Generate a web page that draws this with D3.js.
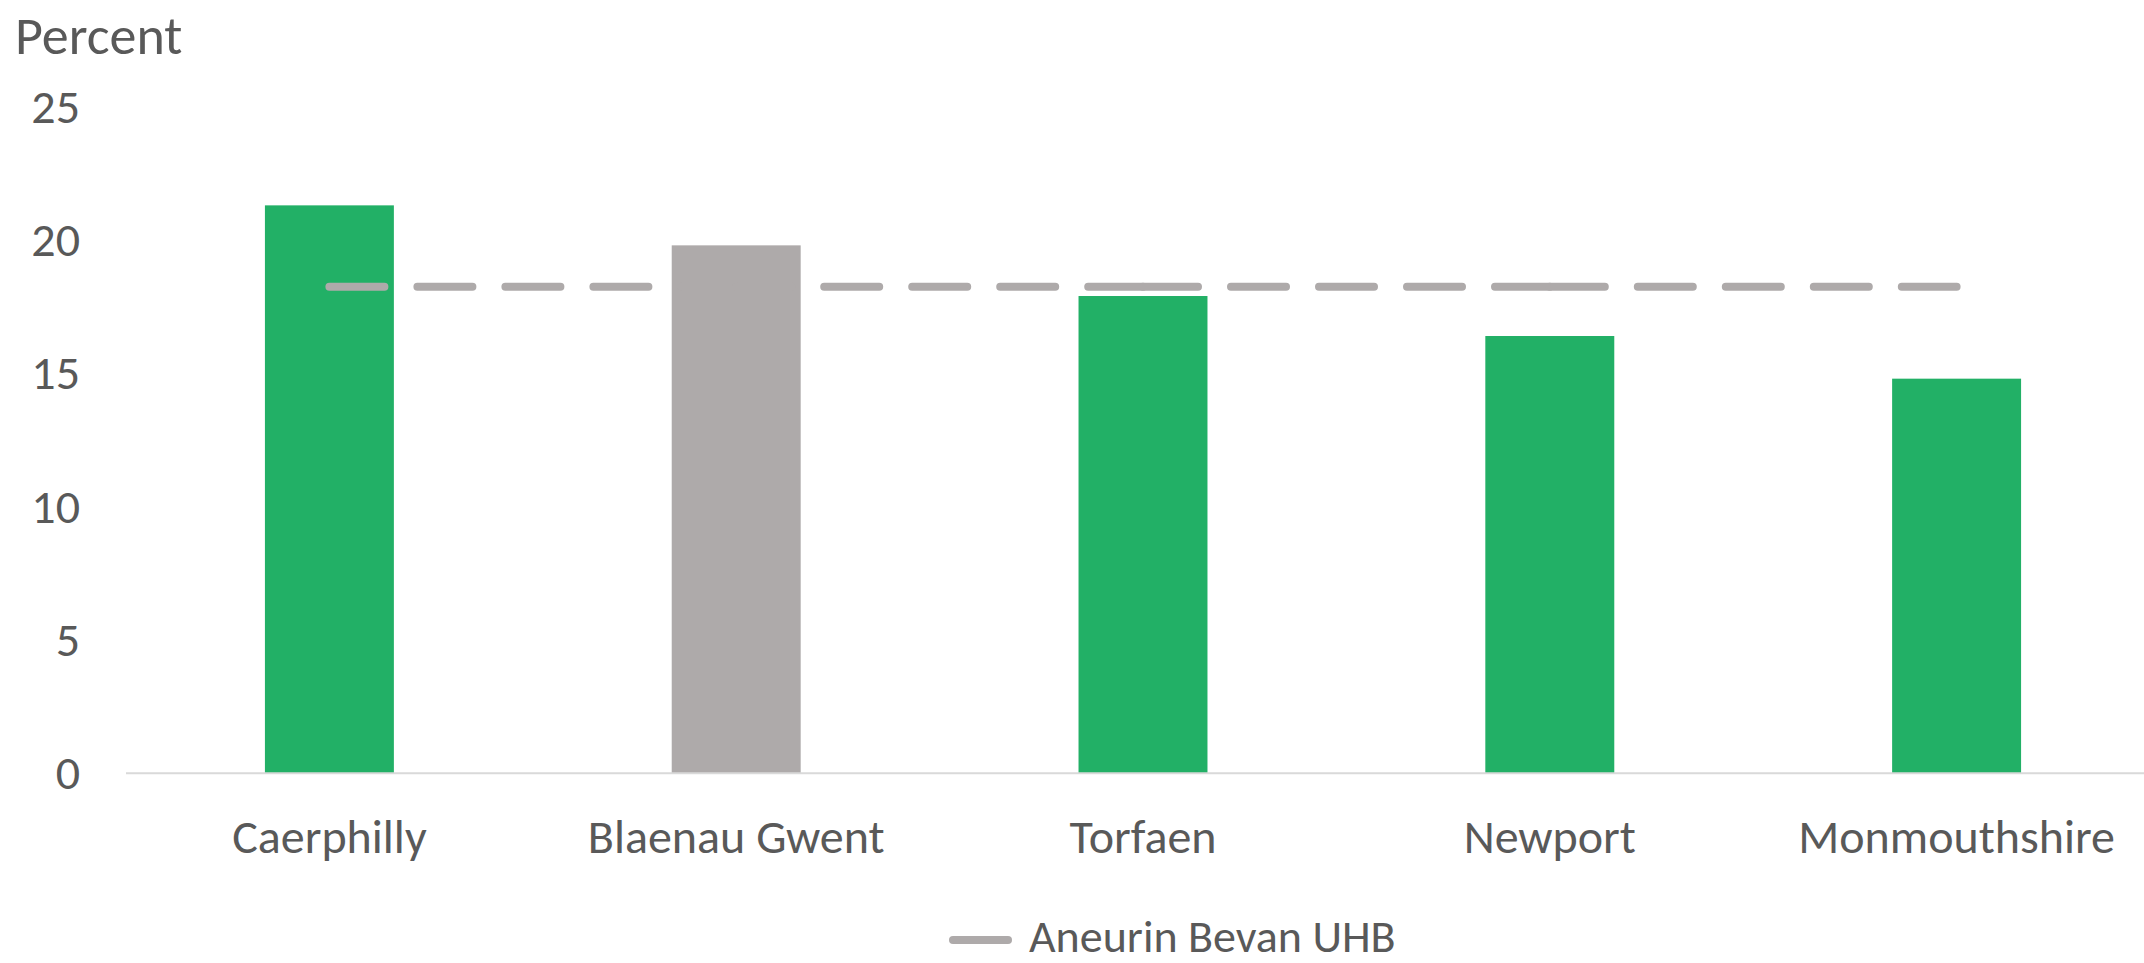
<!DOCTYPE html>
<html><head><meta charset="utf-8">
<script src="https://cdn.jsdelivr.net/npm/d3@7"></script>
<style>body{margin:0;background:#fff;overflow:hidden}</style>
</head><body><svg id="c" width="2144" height="963"></svg>
<script>
const categories = ["Caerphilly", "Blaenau Gwent", "Torfaen", "Newport", "Monmouthshire"];
const values = [21.3, 19.8, 17.9, 16.4, 14.8];
const boardAverage = [18.25, 18.25, 18.25, 18.25, 18.25];
const highlighted = ["Blaenau Gwent"];
const yTicks = [0, 5, 10, 15, 20, 25];
const yTitle = "Percent";
const legendLabel = "Aneurin Bevan UHB";

const FONT = "Carlito, Calibri, Lato, sans-serif";
const TXT = "#595959";
const GREEN = "#22B066", GREY = "#AEAAAA";

const svg = d3.select("#c").style("font-family", FONT);

const x = d3.scaleBand().domain(categories).range([126, 2160])
  .paddingInner(0.683).paddingOuter(0.3415);
const y = d3.scaleLinear().domain([0, 25]).range([773.3, 106.7]);

// y labels
svg.append("g").selectAll("text").data(yTicks).join("text")
  .attr("x", 80).attr("y", d => y(d) + 16)
  .attr("text-anchor", "end").attr("font-size", 48).attr("fill", TXT)
  .text(d => d);

svg.append("text").attr("x", 15).attr("y", 54).attr("font-size", 54)
  .attr("fill", TXT).text(yTitle);

// bars
svg.append("g").selectAll("rect").data(categories).join("rect")
  .attr("x", d => x(d)).attr("width", x.bandwidth())
  .attr("y", (d, i) => y(values[i])).attr("height", (d, i) => y(0) - y(values[i]))
  .attr("fill", d => highlighted.includes(d) ? GREY : GREEN);

// x axis line
svg.append("line").attr("x1", 126).attr("x2", 2160)
  .attr("y1", y(0)).attr("y2", y(0))
  .attr("stroke", "#D9D9D9").attr("stroke-width", 2);

// category labels
svg.append("g").selectAll("text").data(categories).join("text")
  .attr("x", d => x(d) + x.bandwidth() / 2).attr("y", 853)
  .attr("text-anchor", "middle").attr("font-size", 48).attr("fill", TXT)
  .text(d => d);

// dashed average line, drawn segment by segment (dash restarts at each point)
const cx = d => x(d) + x.bandwidth() / 2;
const segs = d3.range(categories.length - 1).map(i => [
  [cx(categories[i]), y(boardAverage[i])],
  [cx(categories[i + 1]), y(boardAverage[i + 1])]
]);
svg.append("g").selectAll("path").data(segs).join("path")
  .attr("d", d => d3.line()(d))
  .attr("fill", "none").attr("stroke", GREY).attr("stroke-width", 8)
  .attr("stroke-linecap", "round").attr("stroke-dasharray", "55,33");

// legend
svg.append("line").attr("x1", 953).attr("x2", 1008).attr("y1", 940).attr("y2", 940)
  .attr("stroke", GREY).attr("stroke-width", 8).attr("stroke-linecap", "round");
svg.append("text").attr("x", 1029).attr("y", 952).attr("font-size", 46)
  .attr("fill", TXT).text(legendLabel);
</script></body></html>
